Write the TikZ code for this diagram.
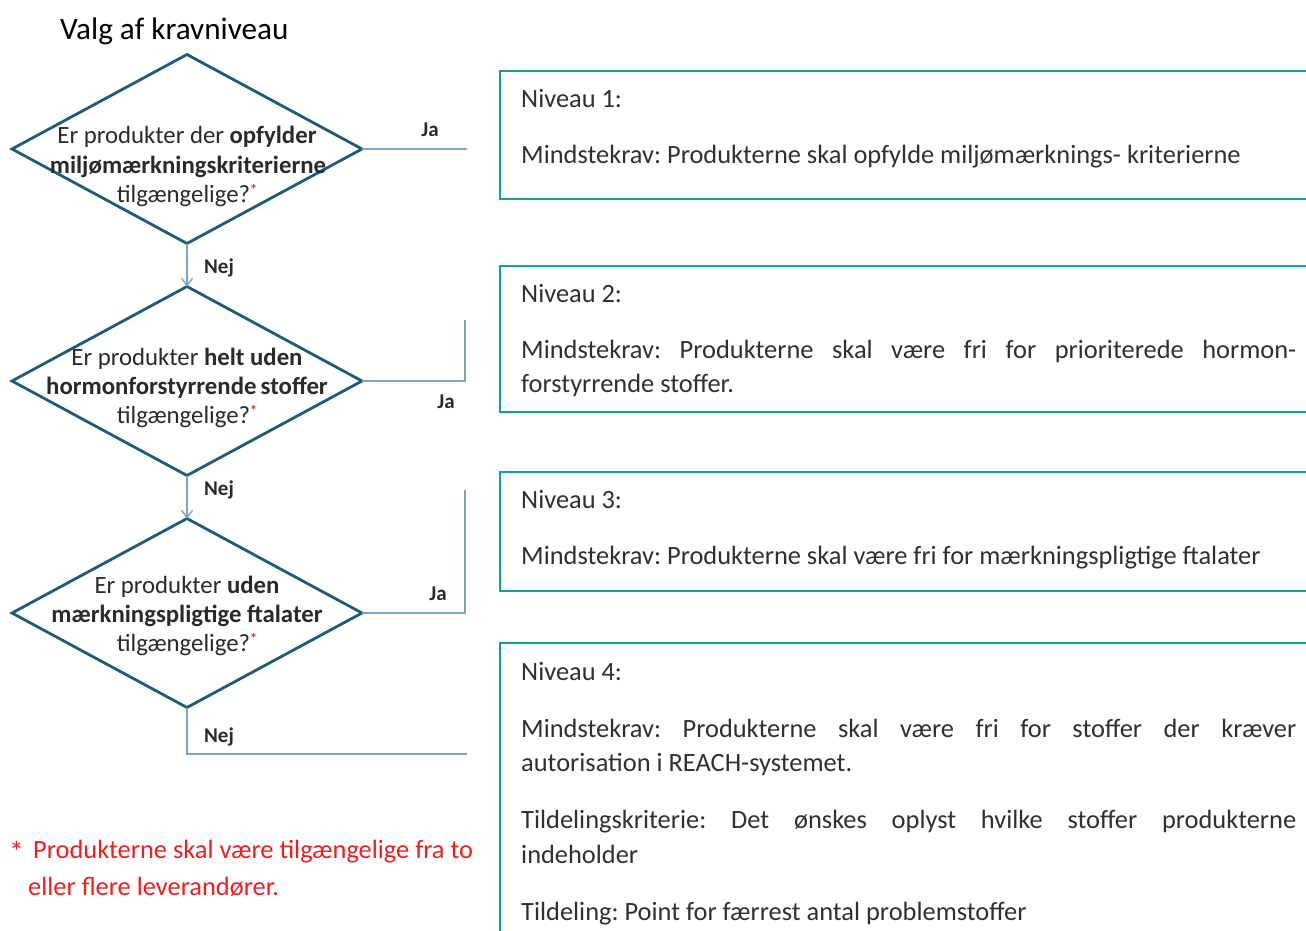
\documentclass[tikz,border=0pt]{standalone}
\usepackage{fontspec}
\setmainfont{Carlito}
\usetikzlibrary{shapes.geometric,arrows.meta}
\definecolor{boxc}{HTML}{12A19A}
\definecolor{dline}{HTML}{1E5C7C}
\definecolor{cline}{HTML}{7AA6C2}
\definecolor{txt}{HTML}{303030}
\definecolor{dtxt}{HTML}{2A2A2A}
\definecolor{fred}{HTML}{F01E1E}
\newcommand{\redstar}{\raisebox{0.3em}{\fontsize{14}{14}\selectfont\color{fred}\textbf{*}}}
\frenchspacing
\tikzset{
  dia/.style={diamond, draw=dline, line width=2.8pt, minimum width=350pt, minimum height=189pt, inner sep=0pt, outer sep=0pt},
  dtext/.style={anchor=base, text=dtxt, inner sep=0pt, font=\fontsize{24.8}{28}\selectfont},
  conn/.style={draw=cline, line width=1.6pt},
  arr/.style={conn, -{Straight Barb[length=7pt,width=11pt,line width=1.4pt]}},
  lbl/.style={anchor=base, text=dtxt, inner sep=0pt, font=\fontsize{21}{24}\selectfont\bfseries},
  kbox/.style={draw=boxc, line width=2.6pt},
  btext/.style={anchor=base west, text=txt, inner sep=0pt, font=\fontsize{26.4}{30}\selectfont},
  ftext/.style={anchor=base west, text=fred, inner sep=0pt, font=\fontsize{26.4}{28}\selectfont},
}
\begin{document}
\begin{tikzpicture}[x=1pt,y=-1pt]
\useasboundingbox[fill=white] (0,0) rectangle (1306,931);

% title
\node[anchor=base west, inner sep=0pt, font=\fontsize{31.2}{36}\selectfont] (title) at (60,40) {Valg af kravniveau};

% diamonds
\node[dia] (d1) at (187,149) {};
\node[dia] (d2) at (187,381) {};
\node[dia] (d3) at (187,613) {};

\node[dtext] (d1a) at (187,143) {Er produkter der \textbf{opfylder}};
\node[dtext] (d1b) at (188,173) {\textbf{miljømærkningskriterierne}};
\node[dtext] (d1c) at (187,202) {tilgængelige?\redstar};

\node[dtext] (d2a) at (187,365) {Er produkter \textbf{helt uden}};
\node[dtext] (d2b) at (187,394) {\textbf{hormonforstyrrende\,stoffer}};
\node[dtext] (d2c) at (187,423) {tilgængelige?\redstar};

\node[dtext] (d3a) at (187,593) {Er produkter \textbf{uden}};
\node[dtext] (d3b) at (187,622) {\textbf{mærkningspligtige ftalater}};
\node[dtext] (d3c) at (187,651) {tilgængelige?\redstar};

% connector ends
\coordinate (e1) at (467,149);
\coordinate (c2) at (465,381);
\coordinate (e2) at (465,320);
\coordinate (c3) at (465,613);
\coordinate (e3) at (465,490);
\coordinate (c4) at (187,754);
\coordinate (e4) at (467,754);

\draw[conn] (d1.east) -- (e1);
\draw[arr] (d1.south) -- (d2.north);
\draw[conn] (d2.east) -- (c2) -- (e2);
\draw[arr] (d2.south) -- (d3.north);
\draw[conn] (d3.east) -- (c3) -- (e3);
\draw[conn] (d3.south) -- (c4) -- (e4);

\node[lbl] (ja1) at (430,137) {Ja};
\node[lbl] (nej1) at (219,273) {Nej};
\node[lbl] (ja2) at (446,408) {Ja};
\node[lbl] (nej2) at (219,495) {Nej};
\node[lbl] (ja3) at (438,600) {Ja};
\node[lbl] (nej3) at (219,742) {Nej};

% footnote
\node[anchor=base west, inner sep=0pt, text=fred, font=\fontsize{30}{30}\selectfont] (fstar) at (9,862) {*};
\node[ftext] (f1) at (33,858) {Produkterne skal være tilgængelige fra to};
\node[ftext] (f2) at (28,895) {eller flere leverandører.};

% boxes
\draw[kbox] (1310,71) -- (500,71) -- (500,199) -- (1310,199);
\draw[kbox] (1310,266) -- (500,266) -- (500,412) -- (1310,412);
\draw[kbox] (1310,472) -- (500,472) -- (500,591) -- (1310,591);
\draw[kbox] (1310,643) -- (500,643) -- (500,935);

\node[btext] (b1a) at (521,108) {Niveau 1:};
\node[btext] (b1b) at (521,164) {Mindstekrav: Produkterne skal opfylde miljømærknings- kriterierne};

\node[btext] (b2a) at (521,302) {Niveau 2:};
\node[btext] (b2b) at (521,358) {\makebox[775pt][s]{Mindstekrav: Produkterne skal være fri for prioriterede hormon-}};
\node[btext] (b2c) at (521,392) {forstyrrende stoffer.};

\node[btext] (b3a) at (521,508) {Niveau 3:};
\node[btext] (b3b) at (521,564) {Mindstekrav: Produkterne skal være fri for mærkningspligtige ftalater};

\node[btext] (b4a) at (521,680) {Niveau 4:};
\node[btext] (b4b) at (521,737) {\makebox[775pt][s]{Mindstekrav: Produkterne skal være fri for stoffer der kræver}};
\node[btext] (b4c) at (521,771) {autorisation i REACH-systemet.};
\node[btext] (b4d) at (521,828) {\makebox[775pt][s]{Tildelingskriterie: Det ønskes oplyst hvilke stoffer produkterne}};
\node[btext] (b4e) at (521,863) {indeholder};
\node[btext] (b4f) at (521,920) {Tildeling: Point for færrest antal problemstoffer};
\end{tikzpicture}
\end{document}
